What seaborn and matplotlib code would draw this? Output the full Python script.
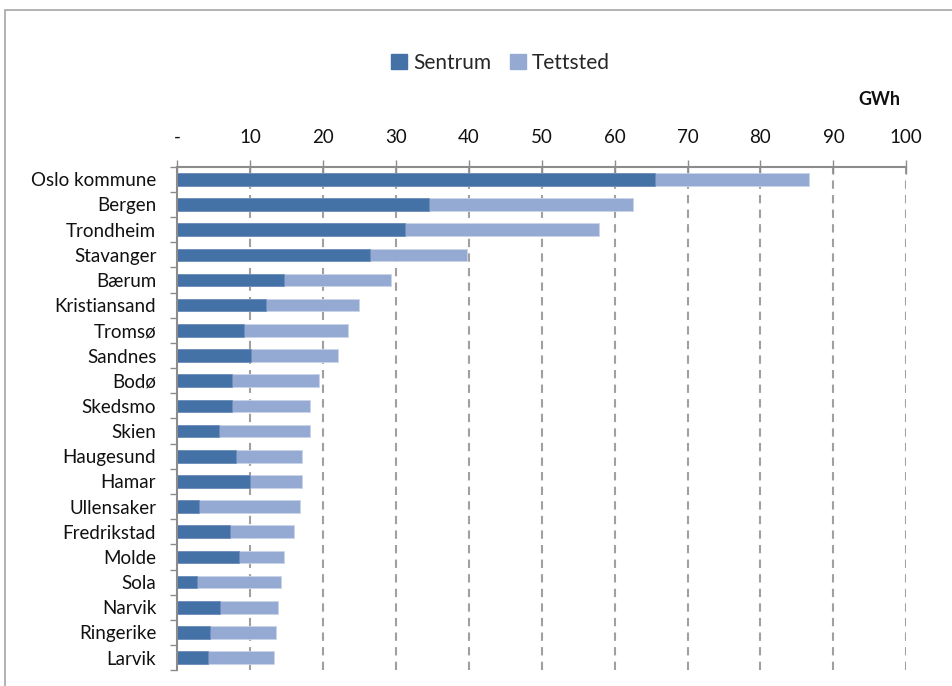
import numpy as np
import pandas as pd
import matplotlib
matplotlib.use("Agg")
import matplotlib.pyplot as plt
from matplotlib.patches import Rectangle
from matplotlib.ticker import FixedLocator
import seaborn as sns

# Energy use per municipality (GWh), split into centre and urban settlement
kommuner = ["Oslo kommune", "Bergen", "Trondheim", "Stavanger", "Bærum",
            "Kristiansand", "Tromsø", "Sandnes", "Bodø", "Skedsmo", "Skien",
            "Haugesund", "Hamar", "Ullensaker", "Fredrikstad", "Molde",
            "Sola", "Narvik", "Ringerike", "Larvik"]
sentrum = [65.5, 34.5, 31.3, 26.5, 14.7, 12.2, 9.2, 10.1, 7.5, 7.5, 5.7,
           8.1, 10.0, 3.0, 7.3, 8.5, 2.8, 5.9, 4.5, 4.2]
tettsted = [21.1, 28.0, 26.5, 13.3, 14.7, 12.7, 14.3, 11.9, 11.9, 10.7, 12.5,
            9.1, 7.2, 13.9, 8.8, 6.2, 11.5, 8.0, 9.0, 9.1]
x_ticks = [0, 10, 20, 30, 40, 50, 60, 70, 80, 90, 100]
x_ticklabels = ["-", "10", "20", "30", "40", "50", "60", "70", "80", "90", "100"]

df = pd.DataFrame({"Kommune": kommuner, "Sentrum": sentrum, "Tettsted": tettsted})
df["Total"] = df["Sentrum"] + df["Tettsted"]

sns.set_theme(style="white")
plt.rcParams["font.family"] = ["Lato", "DejaVu Sans"]

c_sentrum = "#4472a6"
c_tettsted = "#94aad2"
grey = "#8c8c8c"

fig = plt.figure(figsize=(9.52, 6.86), dpi=100)
ax = fig.add_axes([0.186, 0.023, 0.766, 0.734])

# stacked bars: full length in light colour, centre part drawn on top
sns.barplot(data=df, y="Kommune", x="Total", color=c_tettsted, orient="h",
            width=0.5, ax=ax, edgecolor="#c9d4ea", linewidth=0.6,
            saturation=1)
sns.barplot(data=df, y="Kommune", x="Sentrum", color=c_sentrum, orient="h",
            width=0.5, ax=ax, edgecolor="#6f90bb", linewidth=0.6,
            saturation=1)

ax.set_xlim(0, 100)
ax.set_ylim(len(kommuner) - 0.5, -0.5)
ax.set_xlabel("")
ax.set_ylabel("")

# value axis on top
ax.xaxis.tick_top()
ax.set_xticks(x_ticks)
ax.set_xticklabels(x_ticklabels, fontsize=13.5, color="#111111")
ax.tick_params(axis="x", which="major", direction="inout", length=10,
               width=1, color=grey, pad=10, top=True, bottom=False)

# category axis: labels at bar centres, tick marks between categories
ax.tick_params(axis="y", which="major", length=0, pad=15, labelsize=13.5,
               labelcolor="#111111")
ax.yaxis.set_minor_locator(FixedLocator(np.arange(-0.5, len(kommuner), 1.0)))
ax.tick_params(axis="y", which="minor", left=True, direction="out", length=5,
               width=1, color=grey)

for lbl in ax.get_yticklabels():
    lbl.set_horizontalalignment("right")

# dashed vertical gridlines
for xv in x_ticks[1:]:
    ax.axvline(xv, color="#a0a0a0", linestyle=(0, (4, 3)), linewidth=1.5,
               zorder=0)

for side in ["right", "bottom"]:
    ax.spines[side].set_visible(False)
for side in ["top", "left"]:
    ax.spines[side].set_color(grey)
    ax.spines[side].set_linewidth(1.5)
ax.set_facecolor("white")

# legend
handles = [Rectangle((0, 0), 1, 1, color=c_sentrum),
           Rectangle((0, 0), 1, 1, color=c_tettsted)]
fig.legend(handles, ["Sentrum", "Tettsted"], loc="center",
           bbox_to_anchor=(0.526, 0.908), ncol=2, frameon=False, fontsize=15,
           handlelength=0.75, handleheight=0.75, handletextpad=0.3,
           columnspacing=0.9)

fig.text(0.946, 0.855, "GWh", ha="right", va="center", fontsize=13,
         fontweight="bold", color="#111111")

# chart frame
fig.patches.append(Rectangle((0.005, -0.05), 1.2, 1.036, transform=fig.transFigure,
                             fill=False, edgecolor="#a6a6a6", linewidth=1.2))

fig.savefig("out.png", dpi=100, facecolor="white")
